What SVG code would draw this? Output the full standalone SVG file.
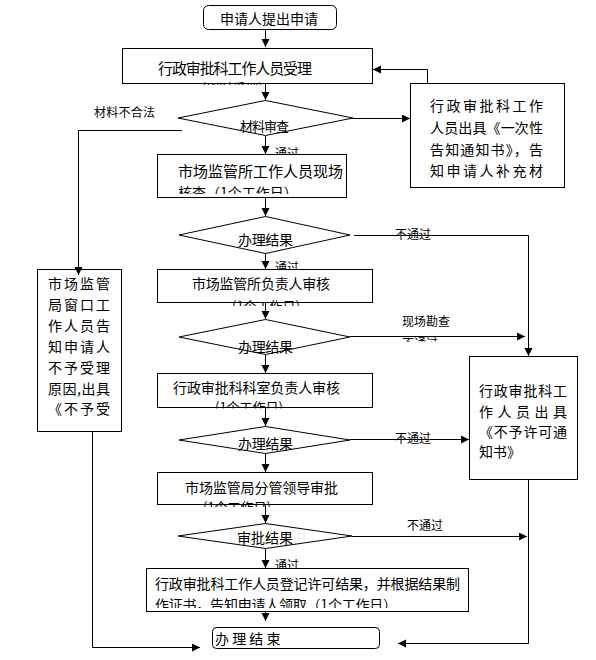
<svg xmlns="http://www.w3.org/2000/svg" width="596" height="660" viewBox="0 0 596 660">
<defs>
<style>
text{font-family:"Noto Sans CJK SC","Noto Sans",sans-serif;fill:#000;dominant-baseline:central}
.b{fill:#fff;stroke:#000;stroke-width:1}
.c{fill:none;stroke:#000;stroke-width:1}
.t15{font-size:15px}
.t14{font-size:14px}
.t13{font-size:13px}
.t12{font-size:12px}
</style>
<marker id="ah" markerUnits="userSpaceOnUse" markerWidth="9" markerHeight="9" refX="8" refY="4" orient="auto">
<path d="M0,0 L8,4 L0,8 z" fill="#000"/>
</marker>
<clipPath id="cp2"><rect x="122" y="48" width="251" height="37"/></clipPath>
<clipPath id="cp3"><rect x="157" y="154" width="190" height="40"/></clipPath>
<clipPath id="cp4"><rect x="157" y="269" width="216" height="37"/></clipPath>
<clipPath id="cp5"><rect x="157" y="373" width="216" height="35.5"/></clipPath>
<clipPath id="cp6"><rect x="157" y="472" width="216" height="35"/></clipPath>
<clipPath id="cp7"><rect x="146" y="568" width="323" height="40"/></clipPath>
<clipPath id="cpl"><rect x="395" y="330" width="60" height="11.5"/></clipPath>
</defs>

<g id="labels">
<text class="t12" x="94" y="111" textLength="61">材料不合法</text>
<text class="t12" x="275" y="152">通过</text>
<text class="t12" x="275" y="266">通过</text>
<text class="t12" x="275" y="564">通过</text>
<text class="t12" x="395" y="233">不通过</text>
<text class="t12" x="402" y="320">现场勘查</text>
<text class="t12" x="402" y="342" clip-path="url(#cpl)">不通过</text>
<text class="t12" x="395" y="437">不通过</text>
<text class="t12" x="407" y="524">不通过</text>
</g>

<g id="n_start">
<rect class="b" x="203.5" y="5.5" width="133" height="24" rx="5"/>
<text class="t14" x="220" y="18" textLength="98">申请人提出申请</text>
</g>

<g id="n_accept">
<rect class="b" x="122.5" y="48.5" width="250" height="35"/>
<text class="t15" x="158" y="67" textLength="154">行政审批科工作人员受理</text>
<text class="t13" x="202" y="87" clip-path="url(#cp2)">(即时受理)</text>
</g>

<g id="d_check">
<polygon class="b" points="265.5,100.5 353,118 265.5,135.5 178,118"/>
<text class="t13" x="240" y="125" textLength="49">材料审查</text>
</g>

<g id="n_notice">
<rect class="b" x="410.5" y="83.5" width="154" height="104"/>
<text class="t14" x="430" y="105" textLength="113">行政审批科工作</text>
<text class="t14" x="430" y="127" textLength="113">人员出具《一次性</text>
<text class="t14" x="430" y="149" textLength="113">告知通知书》，告</text>
<text class="t14" x="430" y="170" textLength="113">知申请人补充材</text>
</g>

<g id="n_reject">
<rect class="b" x="37.5" y="269.5" width="84" height="162"/>
<text class="t14" x="48" y="283" textLength="62">市场监管</text>
<text class="t14" x="48" y="304" textLength="62">局窗口工</text>
<text class="t14" x="48" y="325" textLength="62">作人员告</text>
<text class="t14" x="48" y="346" textLength="62">知申请人</text>
<text class="t14" x="48" y="367" textLength="62">不予受理</text>
<text class="t14" x="48" y="388" textLength="62">原因,出具</text>
<text class="t14" x="48" y="408" textLength="62">《不予受</text>
</g>

<g id="n_site">
<rect class="b" x="157.5" y="154.5" width="189" height="43"/>
<text class="t15" x="178" y="170" textLength="165">市场监管所工作人员现场</text>
<text class="t14" x="178" y="192" clip-path="url(#cp3)">核查（1个工作日）</text>
</g>

<g id="d_result1">
<polygon class="b" points="265.5,216.5 350,235 265.5,253.5 179,235"/>
<text class="t14" x="238" y="239" textLength="55">办理结果</text>
</g>

<g id="n_head">
<rect class="b" x="157.5" y="269.5" width="215" height="33"/>
<text class="t14" x="192" y="283" textLength="138">市场监管所负责人审核</text>
<text class="t13" x="232" y="305" clip-path="url(#cp4)">(1个工作日)</text>
</g>

<g id="d_result2">
<polygon class="b" points="265.5,319.5 350,337 265.5,354.5 179,337"/>
<text class="t14" x="238" y="346" textLength="55">办理结果</text>
</g>

<g id="n_dept">
<rect class="b" x="157.5" y="373.5" width="215" height="34"/>
<text class="t14" x="173" y="387" textLength="167">行政审批科科室负责人审核</text>
<text class="t13" x="215" y="406" clip-path="url(#cp5)">(1个工作日)</text>
</g>

<g id="d_result3">
<polygon class="b" points="265.5,426.5 350,440 265.5,453.5 179,440"/>
<text class="t14" x="238" y="443" textLength="55">办理结果</text>
</g>

<g id="n_leader">
<rect class="b" x="157.5" y="472.5" width="215" height="32"/>
<text class="t14" x="185" y="487" textLength="153">市场监管局分管领导审批</text>
<text class="t13" x="203" y="506" clip-path="url(#cp6)">(1个工作日)</text>
</g>

<g id="d_approve">
<polygon class="b" points="265.5,523.5 352,536 265.5,548.5 178,536"/>
<text class="t14" x="237" y="537" textLength="56">审批结果</text>
</g>

<g id="n_deny">
<rect class="b" x="469.5" y="356.5" width="108" height="123"/>
<text class="t14" x="479" y="390" textLength="88">行政审批科工</text>
<text class="t14" x="479" y="411" textLength="88">作人员出具</text>
<text class="t14" x="479" y="431" textLength="88">《不予许可通</text>
<text class="t14" x="479" y="451">知书》</text>
</g>

<g id="n_register">
<rect class="b" x="146.5" y="568.5" width="322" height="43"/>
<text class="t14" x="155" y="583" textLength="305">行政审批科工作人员登记许可结果，并根据结果制</text>
<text class="t14" x="155" y="604" textLength="242" clip-path="url(#cp7)">作证书，告知申请人领取（1个工作日）</text>
</g>

<g id="n_end">
<rect class="b" x="212.5" y="627.5" width="167" height="21" rx="4"/>
<text class="t14" x="215" y="638">办 理 结 束</text>
</g>

<g id="connectors">
<path class="c" d="M265.5,30 V47" marker-end="url(#ah)"/>
<path class="c" d="M265.5,84 V100" marker-end="url(#ah)"/>
<path class="c" d="M353,118.5 H410" marker-end="url(#ah)"/>
<path class="c" d="M427.5,83 V69.5 H373" marker-end="url(#ah)"/>
<path class="c" d="M182,130.5 H78.5 V275" marker-end="url(#ah)"/>
<path class="c" d="M265.5,136 V154" marker-end="url(#ah)"/>
<path class="c" d="M265.5,198 V216" marker-end="url(#ah)"/>
<path class="c" d="M354,235.5 H528.5 V356" marker-end="url(#ah)"/>
<path class="c" d="M265.5,254 V269" marker-end="url(#ah)"/>
<path class="c" d="M265.5,303 V319" marker-end="url(#ah)"/>
<path class="c" d="M350,336.5 H525" marker-end="url(#ah)"/>
<path class="c" d="M265.5,355 V373" marker-end="url(#ah)"/>
<path class="c" d="M265.5,408 V426" marker-end="url(#ah)"/>
<path class="c" d="M350,439.5 H469" marker-end="url(#ah)"/>
<path class="c" d="M265.5,454 V472" marker-end="url(#ah)"/>
<path class="c" d="M265.5,505 V523" marker-end="url(#ah)"/>
<path class="c" d="M352,536.5 H527" marker-end="url(#ah)"/>
<path class="c" d="M265.5,549 V568" marker-end="url(#ah)"/>
<path class="c" d="M528.5,480 V643.5 H398" marker-end="url(#ah)"/>
<path class="c" d="M92.5,432 V647.5 H200" marker-end="url(#ah)"/>
<path class="c" d="M265.5,612 V621" marker-end="url(#ah)"/>
</g>
</svg>
